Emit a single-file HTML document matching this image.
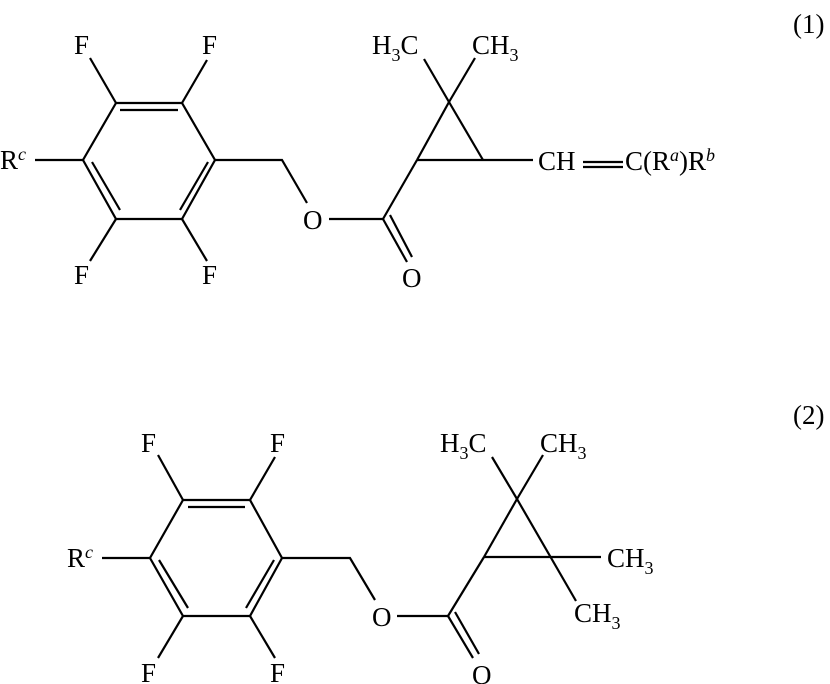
<!DOCTYPE html>
<html><head><style>
html,body{margin:0;padding:0;background:#fff;}
svg{display:block;}
text{font-family:"Liberation Serif",serif;font-size:27px;fill:#000;}
.s{font-size:18px;}
</style></head><body>
<svg width="830" height="684" viewBox="0 0 830 684" xmlns="http://www.w3.org/2000/svg">
<g stroke="#000" stroke-width="2.2" fill="none" stroke-linecap="butt">
<!-- Structure 1 -->
<polyline points="116,103 182,103 215,160 182,219 116,219 83,160 116,103"/>
<line x1="120" y1="110" x2="178" y2="110"/>
<line x1="92" y1="162" x2="120" y2="210"/>
<line x1="208" y1="162" x2="180" y2="210"/>
<line x1="116" y1="103" x2="90" y2="58"/>
<line x1="182" y1="103" x2="207" y2="60"/>
<line x1="116" y1="219" x2="90" y2="261"/>
<line x1="182" y1="219" x2="207" y2="261"/>
<line x1="35" y1="160" x2="83" y2="160"/>
<polyline points="215,160 282,160 307,203"/>
<line x1="329" y1="219" x2="383" y2="219"/>
<line x1="383" y1="219" x2="407" y2="262"/>
<line x1="390" y1="215" x2="412" y2="257"/>
<line x1="383" y1="219" x2="417" y2="160"/>
<line x1="417" y1="160" x2="449" y2="102"/>
<line x1="449" y1="102" x2="483" y2="160"/>
<line x1="417" y1="160" x2="533" y2="160"/>
<line x1="449" y1="102" x2="424" y2="59"/>
<line x1="449" y1="102" x2="475" y2="58"/>
<line x1="583" y1="162" x2="623" y2="162"/>
<line x1="583" y1="167" x2="623" y2="167"/>
<!-- Structure 2 -->
<polyline points="183,500 250,500 282,558 250,616 183,616 150,558 183,500"/>
<line x1="188" y1="507" x2="245" y2="507"/>
<line x1="159" y1="560" x2="188" y2="608"/>
<line x1="274" y1="560" x2="246" y2="608"/>
<line x1="183" y1="500" x2="158" y2="455"/>
<line x1="250" y1="500" x2="275" y2="457"/>
<line x1="183" y1="616" x2="158" y2="658"/>
<line x1="250" y1="616" x2="275" y2="658"/>
<line x1="102" y1="558" x2="150" y2="558"/>
<polyline points="282,558 350,558 375,600"/>
<line x1="397" y1="616" x2="448" y2="616"/>
<line x1="448" y1="616" x2="473" y2="658"/>
<line x1="455" y1="612" x2="479" y2="654"/>
<line x1="448" y1="616" x2="484" y2="557"/>
<line x1="484" y1="557" x2="517" y2="499"/>
<line x1="517" y1="499" x2="576" y2="601"/>
<line x1="484" y1="557" x2="601" y2="557"/>
<line x1="517" y1="499" x2="492" y2="457"/>
<line x1="517" y1="499" x2="543" y2="455"/>
</g>
<!-- labels 1 -->
<text x="74" y="54">F</text>
<text x="202" y="54">F</text>
<text x="74" y="284">F</text>
<text x="202" y="284">F</text>
<text x="0" y="169">R<tspan class="s" dy="-9" font-style="italic">c</tspan></text>
<text x="303" y="229">O</text>
<text x="402" y="287">O</text>
<text x="372" y="54">H<tspan class="s" dy="7">3</tspan><tspan dy="-7">C</tspan></text>
<text x="472" y="54">CH<tspan class="s" dy="7">3</tspan></text>
<text x="538" y="170">CH</text>
<text x="625" y="170">C(R<tspan class="s" dy="-9" font-style="italic">a</tspan><tspan dy="9">)R</tspan><tspan class="s" dy="-9" font-style="italic">b</tspan></text>
<text x="793" y="33">(1)</text>
<!-- labels 2 -->
<text x="141" y="452">F</text>
<text x="270" y="452">F</text>
<text x="141" y="682">F</text>
<text x="270" y="682">F</text>
<text x="67" y="567">R<tspan class="s" dy="-9" font-style="italic">c</tspan></text>
<text x="372" y="626">O</text>
<text x="472" y="684">O</text>
<text x="440" y="452">H<tspan class="s" dy="7">3</tspan><tspan dy="-7">C</tspan></text>
<text x="540" y="452">CH<tspan class="s" dy="7">3</tspan></text>
<text x="607" y="567">CH<tspan class="s" dy="7">3</tspan></text>
<text x="574" y="622">CH<tspan class="s" dy="7">3</tspan></text>
<text x="793" y="424">(2)</text>
</svg>
</body></html>
